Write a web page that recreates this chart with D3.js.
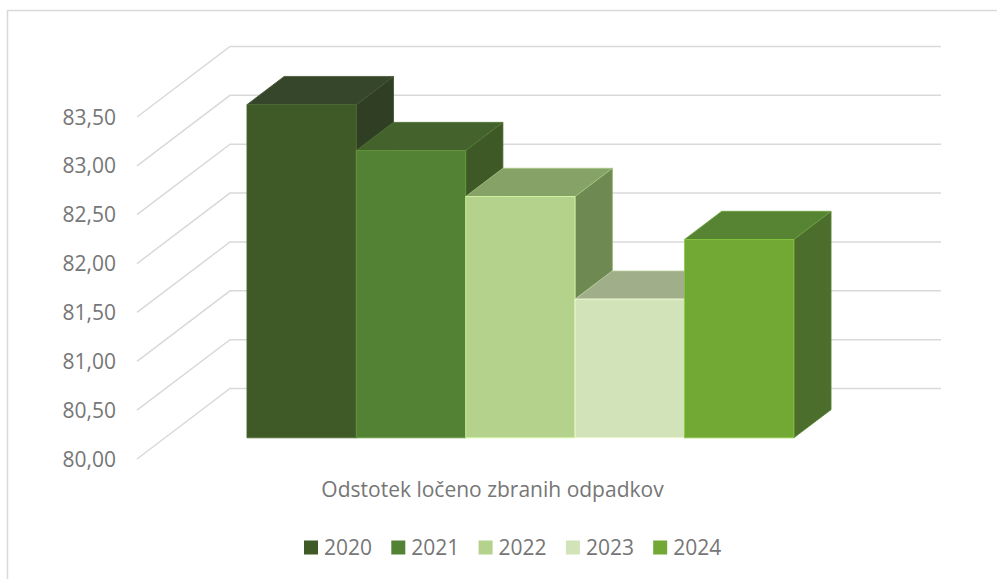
<!DOCTYPE html>
<html>
<head>
<meta charset="utf-8">
<script src="https://cdn.jsdelivr.net/npm/d3@7"></script>
<style>
  body { margin: 0; background: #fff; }
  svg { display: block; font-family: "Open Sans", sans-serif; }
</style>
</head>
<body>
<svg id="chart"></svg>
<script>
const categories = ["Odstotek ločeno zbranih odpadkov"]
const years = ["2020", "2021", "2022", "2023", "2024"]
const values = [83.41, 82.94, 82.47, 81.42, 82.03]
const tickValues = [80, 80.5, 81, 81.5, 82, 82.5, 83, 83.5]
const tickLabels = ["80,00", "80,50", "81,00", "81,50", "82,00", "82,50", "83,00", "83,50"]

// front / top / side shades per series
const fronts = ["#3f5a27", "#548235", "#b4d28b", "#d2e3ba", "#72a834"]
const tops = ["#36462a", "#43622c", "#86a267", "#a0ae8a", "#578433"]
const sides = ["#303e24", "#3e5826", "#6e8951", "#8a9a74", "#4b6e2c"]

const width = 997, height = 579
const plot = { left: 137, right: 848, depthX: 93, depthY: 70.5 }

const svg = d3.select("#chart")
    .attr("width", width)
    .attr("height", height)
    .attr("viewBox", [0, 0, width, height])

// chart border
svg.append("rect")
    .attr("x", 7.5).attr("y", 10.5)
    .attr("width", 1000).attr("height", 600)
    .attr("fill", "none")
    .attr("stroke", "#d9d9d9")
    .attr("stroke-width", 1.5)

const y = d3.scaleLinear()
    .domain([80, 83.5])
    .range([459, 117])

const x = d3.scaleBand()
    .domain(years)
    .range([plot.left, plot.right])
    .paddingInner(0)
    .paddingOuter(0.75)

const dx = d3.scaleLinear().domain([0, 1]).range([0, plot.depthX])
const dy = d3.scaleLinear().domain([0, 1]).range([0, -plot.depthY])

// project a point (screen x at front, value, depth 0..1)
const P = (px, v, d) => [px + dx(d), y(v) + dy(d)]
const poly = pts => "M" + pts.map(p => p.join(",")).join("L") + "Z"

// gridlines: side wall diagonal + back wall horizontal
const grid = svg.append("g")
    .attr("fill", "none")
    .attr("stroke", "#d9d9d9")
    .attr("stroke-width", 1.5)

grid.selectAll("path")
    .data(tickValues)
    .enter().append("path")
    .attr("d", v => {
        const a = P(plot.left, v, 0), b = P(plot.left, v, 1), c = P(plot.right, v, 1)
        return "M" + a + "L" + b + "L" + c
    })

// tick labels
svg.append("g")
    .selectAll("text")
    .data(tickValues)
    .enter().append("text")
    .attr("x", 116)
    .attr("y", v => y(v) + 2)
    .attr("text-anchor", "end")
    .attr("dominant-baseline", "middle")
    .attr("font-size", 21)
    .attr("fill", "#767676")
    .text((v, i) => tickLabels[i])

// bars, painted left to right
const d0 = 0.3, d1 = 0.7
const bars = svg.append("g")
    .attr("stroke-width", 0.8)
    .attr("stroke-linejoin", "round")

years.forEach((yr, i) => {
    const x0 = x(yr), x1 = x0 + x.bandwidth(), v = values[i]
    const g = bars.append("g")

    g.append("path")
        .attr("d", poly([P(x1, 80, d0), P(x1, 80, d1), P(x1, v, d1), P(x1, v, d0)]))
        .attr("fill", sides[i])
        .attr("stroke", d3.color(sides[i]).brighter(0.6))

    g.append("path")
        .attr("d", poly([P(x0, v, d0), P(x1, v, d0), P(x1, v, d1), P(x0, v, d1)]))
        .attr("fill", tops[i])
        .attr("stroke", d3.color(tops[i]).brighter(0.6))

    g.append("path")
        .attr("d", poly([P(x0, 80, d0), P(x1, 80, d0), P(x1, v, d0), P(x0, v, d0)]))
        .attr("fill", fronts[i])
        .attr("stroke", d3.color(fronts[i]).brighter(0.5))
})

// category label
svg.append("text")
    .attr("x", x(years[0]) + (x(years[4]) + x.bandwidth() - x(years[0])) / 2)
    .attr("y", 497)
    .attr("text-anchor", "middle")
    .attr("font-size", 21)
    .attr("fill", "#767676")
    .text(categories[0])

// legend
const legend = svg.append("g")
    .selectAll("g")
    .data(years)
    .enter().append("g")
    .attr("transform", (d, i) => `translate(${304 + i * 87.3},540.5)`)

legend.append("rect")
    .attr("width", 14).attr("height", 14)
    .attr("fill", (d, i) => fronts[i])

legend.append("text")
    .attr("x", 20)
    .attr("y", 14.5)
    .attr("font-size", 21)
    .attr("fill", "#767676")
    .text(d => d)
</script>
</body>
</html>
